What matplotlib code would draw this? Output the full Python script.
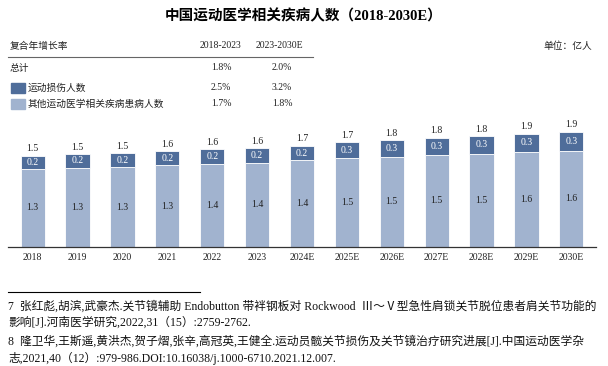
import matplotlib
matplotlib.use("Agg")
import matplotlib.pyplot as plt
from matplotlib.patches import Rectangle

years = ["2018", "2019", "2020", "2021", "2022", "2023", "2024E",
         "2025E", "2026E", "2027E", "2028E", "2029E", "2030E"]
other = [1.28, 1.30, 1.31, 1.34, 1.36, 1.38, 1.42, 1.46, 1.48, 1.51, 1.53, 1.56, 1.58]
injury = [0.22, 0.22, 0.23, 0.23, 0.24, 0.24, 0.24, 0.26, 0.27, 0.28, 0.29, 0.30, 0.31]

cagr_header = ["复合年增长率", "2018-2023", "2023-2030E"]
cagr_rows = ["总计", "运动损伤人数", "其他运动医学相关疾病患病人数"]
cagr_1823 = ["1.8%", "2.5%", "1.7%"]
cagr_2330 = ["2.0%", "3.2%", "1.8%"]

title = "中国运动医学相关疾病人数（2018-2030E）"
unit = "单位：亿人"
footnotes = [
    "7  张红彪,胡滨,武豪杰.关节镜辅助 Endobutton 带袢钢板对 Rockwood  Ⅲ～Ⅴ型急性肩锁关节脱位患者肩关节功能的",
    "影响[J].河南医学研究,2022,31（15）:2759-2762.",
    "8  隆卫华,王斯遥,黄洪杰,贺子熠,张辛,高冠英,王健全.运动员髋关节损伤及关节镜治疗研究进展[J].中国运动医学杂",
    "志,2021,40（12）:979-986.DOI:10.16038/j.1000-6710.2021.12.007.",
]

DARK = "#4f6d9a"
LIGHT = "#a1b3cf"
FAM = ["Liberation Serif", "Noto Sans CJK SC"]
plt.rcParams["font.family"] = FAM

W, H = 608, 366
fig = plt.figure(figsize=(W / 100, H / 100), dpi=100)

def fx(x):
    return x / W

def fy(y):
    return 1 - y / H

# Title
fig.text(fx(304), fy(16), title, ha="center", va="center", fontsize=10.5,
         fontweight="bold", family=FAM)

# CAGR table
tcol = "#222222"
fig.text(fx(10), fy(46), cagr_header[0], ha="left", va="center", fontsize=7, color=tcol)
fig.text(fx(221), fy(46), cagr_header[1], ha="center", va="center", fontsize=7, color=tcol)
fig.text(fx(279), fy(46), cagr_header[2], ha="center", va="center", fontsize=7, color=tcol)
fig.text(fx(592), fy(46), unit, ha="right", va="center", fontsize=7, color=tcol)
fig.add_artist(plt.Line2D([fx(8), fx(313)], [fy(57), fy(57)], color="#666666", lw=0.8))

row_y = [68, 88, 104]
swatch = [None, DARK, LIGHT]
for i, name in enumerate(cagr_rows):
    y = row_y[i]
    x0 = 10
    if swatch[i] is not None:
        fig.add_artist(Rectangle((fx(11), fy(y + 5)), fx(14), 10 / H, color=swatch[i],
                                 transform=fig.transFigure))
        x0 = 28
    fig.text(fx(x0), fy(y), name, ha="left", va="center", fontsize=7, color=tcol)
    fig.text(fx(221), fy(y), cagr_1823[i], ha="center", va="center", fontsize=7, color=tcol)
    fig.text(fx(282), fy(y), cagr_2330[i], ha="center", va="center", fontsize=7, color=tcol)

# Bar chart axes
base_y = 247
px_per_unit = 61.0
ax_top = 100
ax_left, ax_right = 8, 596
ax = fig.add_axes([fx(ax_left), fy(base_y), fx(ax_right - ax_left), (base_y - ax_top) / H])
ax.set_ylim(0, (base_y - ax_top) / px_per_unit)
n = len(years)
xs = list(range(n))
ax.set_xlim(-0.5 - 0.05, n - 0.5 + 0.05)
ax.bar(xs, other, width=0.54, color=LIGHT, edgecolor="white", linewidth=0.6)
ax.bar(xs, injury, bottom=other, width=0.54, color=DARK, edgecolor="white", linewidth=0.6)
for i in xs:
    tot = other[i] + injury[i]
    ax.text(i, other[i] / 2, f"{round(other[i] + 1e-9, 1):.1f}", ha="center", va="center",
            fontsize=7, color="#222222")
    ax.text(i, other[i] + injury[i] / 2, f"{round(injury[i] + 1e-9, 1):.1f}", ha="center",
            va="center", fontsize=7, color="white")
    ax.text(i, tot + 0.04, f"{round(tot + 1e-9, 1):.1f}", ha="center", va="bottom",
            fontsize=7, color="#222222")
ax.set_xticks(xs)
ax.set_xticklabels(years, fontsize=7, color="#222222")
ax.tick_params(axis="x", length=0, pad=4)
ax.set_yticks([])
for s in ["top", "right", "left"]:
    ax.spines[s].set_visible(False)
ax.spines["bottom"].set_color("#333333")
ax.spines["bottom"].set_linewidth(0.9)
ax.patch.set_alpha(0)

# Footnotes
fig.add_artist(plt.Line2D([fx(8), fx(200)], [fy(292), fy(292)], color="black", lw=0.8))
fn_y = [306, 323, 341, 358]
for t, y in zip(footnotes, fn_y):
    fig.text(fx(8), fy(y), t, ha="left", va="center", fontsize=8.45, color="#111111")

fig.savefig("out.png", dpi=100)
